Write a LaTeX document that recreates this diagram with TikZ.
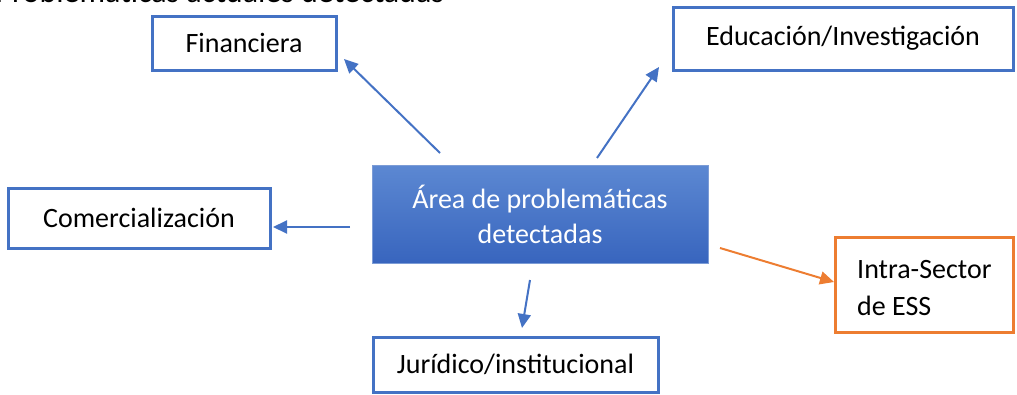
\documentclass[tikz,border=0pt]{standalone}
\usepackage{fontspec}
\setmainfont{Carlito}
\usetikzlibrary{arrows.meta}
\definecolor{obl}{HTML}{4472C4}
\definecolor{oor}{HTML}{ED7D31}
\definecolor{gtop}{HTML}{5C88D2}
\definecolor{gbot}{HTML}{3865BE}
\tikzset{
  box/.style={draw=obl, line width=3pt, fill=white, rectangle, inner sep=0pt, align=center, font=\fontsize{28}{35}\selectfont},
  cbox/.style={rectangle, draw=obl!70!white, line width=0.8pt, top color=gtop, bottom color=gbot, text=white, align=center, inner sep=0pt, font=\fontsize{28}{35}\selectfont},
  arr/.style={draw=obl, line width=2pt, -{Triangle[length=14pt,width=13pt]}},
  oarr/.style={arr, draw=oor, -{Triangle[length=14pt,width=13pt]}},
}
\begin{document}
\begin{tikzpicture}[x=1pt,y=-1pt]
\useasboundingbox (0,0) rectangle (1017,394);
\clip (0,0) rectangle (1017,394);
\node[anchor=base west, font=\fontsize{32}{38}\selectfont] (title) at (-8,2) {Problemáticas actuales detectadas};
\node[box, minimum width=184pt, minimum height=54pt] (fin) at (244,43) {Financiera};
\node[box, minimum width=340pt, minimum height=63pt] (edu) at (843,38.5) {Educación/Investigación};
\node[cbox, minimum width=336pt, minimum height=98pt] (cen) at (540,214) {Área de problemáticas\\detectadas};
\node[box, minimum width=262pt, minimum height=60pt] (com) at (139,218) {Comercialización};
\node[box, draw=oor, minimum width=178pt, minimum height=95pt] (intra) at (924,284.5) {};
\node[anchor=west, align=left, inner sep=0pt, font=\fontsize{28}{37}\selectfont] (intratext) at (857,288) {Intra-Sector\\de ESS};
\node[box, minimum width=285pt, minimum height=55pt] (jur) at (515.5,364.5) {Jurídico/institucional};
\coordinate (f1) at (440,153);
\coordinate (f2) at (344,59);
\coordinate (e1) at (597,158);
\coordinate (e2) at (659,67);
\coordinate (c1) at (350,227);
\coordinate (c2) at (273,227);
\coordinate (j1) at (530,280);
\coordinate (j2) at (522,328);
\coordinate (i1) at (720,248);
\coordinate (i2) at (834,282);
\draw[arr] (f1) -- (f2);
\draw[arr] (e1) -- (e2);
\draw[arr] (c1) -- (c2);
\draw[arr] (j1) -- (j2);
\draw[oarr] (i1) -- (i2);
\end{tikzpicture}
\end{document}
